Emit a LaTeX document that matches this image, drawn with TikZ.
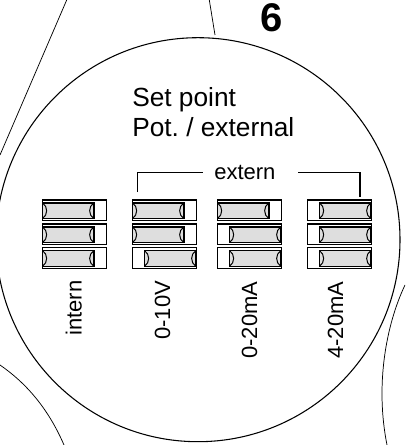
\documentclass[tikz,border=0pt]{standalone}
\usepackage{fontspec}
\setmainfont{Liberation Sans}
\frenchspacing
\definecolor{slidefill}{gray}{0.87}
\newcommand{\sw}[3]{% x, ytop, state (0 left, 1 right)
  \draw[swbox] (#1,#2) rectangle ++(64,20.5);
  \begin{scope}[shift={(#1+#3*12,#2+3)}]
    \draw[swslide] (0,0) rectangle (51.7,15.5);
    \draw[swcap] (0.3,0) .. controls (5.7,3.5) and (5.7,12) .. (0.3,15.5);
    \draw[swcap] (51.4,0) .. controls (46,3.5) and (46,12) .. (51.4,15.5);
  \end{scope}}
\tikzset{
  swbox/.style={draw=black,line width=1pt,fill=white},
  swslide/.style={draw=black,line width=0.95pt,fill=slidefill},
  swcap/.style={draw=black,line width=0.75pt},
  thin line/.style={draw=black,line width=0.55pt},
  big line/.style={draw=black,line width=0.8pt},
  head/.style={inner sep=0pt,font=\fontsize{19.7}{23}\selectfont},
  txt/.style={inner sep=0pt,font=\fontsize{16.5}{20}\selectfont}
}
\begin{document}
\begin{tikzpicture}[x=0.75pt,y=-0.75pt]
\useasboundingbox (0,0) rectangle (405,445);
\clip (0,0) rectangle (405,445);
\draw[big line] (198,239.7) circle [radius=202];
\coordinate (a1) at (66.7,0);
\coordinate (a2) at (0,155);
\coordinate (b1) at (209.3,0);
\coordinate (b2) at (215,35);
\draw[thin line] (a1) -- (a2);
\draw[thin line] (b1) -- (b2);
\draw[thin line] (0,365) .. controls (26,383) and (48,408) .. (64,445);
\draw[thin line] (405,285) .. controls (386,325) and (375,385) .. (387,445);
\node[inner sep=0pt,font=\fontsize{30}{34}\selectfont\bfseries] (six) at (272,17.5) {6};
\node[head,anchor=base west] (t1) at (132,106.7) {Set point};
\node[head,anchor=base west] (t2) at (132,136.7) {Pot. / external};
\node[txt,anchor=base west] (ext) at (214,180) {extern};
\coordinate (l1) at (137.7,192);
\coordinate (l2) at (137.7,172.5);
\coordinate (l3) at (203,172.5);
\coordinate (r1) at (360,197);
\coordinate (r2) at (360,172.5);
\coordinate (r3) at (298,172.5);
\draw[big line] (l1) -- (l2) -- (l3);
\draw[big line] (r1) -- (r2) -- (r3);
\sw{42.3}{200}{0}\sw{42.3}{224}{0}\sw{42.3}{247.7}{0}
\sw{132.3}{200}{0}\sw{132.3}{224}{0}\sw{132.3}{247.7}{1}
\sw{217.3}{200}{0}\sw{217.3}{224}{1}\sw{217.3}{247.7}{1}
\sw{307.3}{200}{1}\sw{307.3}{224}{1}\sw{307.3}{247.7}{1}
\node[txt,rotate=90,anchor=base west] (n1) at (81.5,336) {intern};
\node[txt,rotate=90,anchor=base west] (n2) at (170,340) {0-10V};
\node[txt,rotate=90,anchor=base west] (n3) at (257,359) {0-20mA};
\node[txt,rotate=90,anchor=base west] (n4) at (343,359) {4-20mA};
\end{tikzpicture}
\end{document}
